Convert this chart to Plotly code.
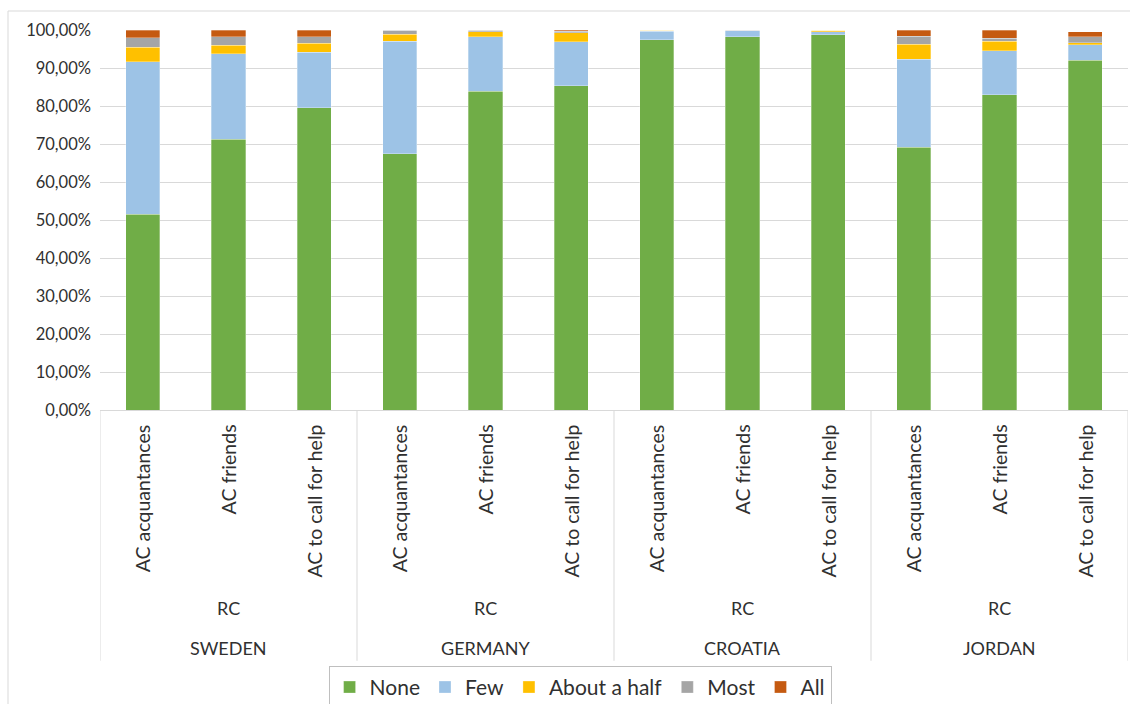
import plotly.graph_objects as go

# Survey response shares (%) per item and country
countries = ["SWEDEN", "GERMANY", "CROATIA", "JORDAN"]
items = ["AC acquantances", "AC friends", "AC to call for help"]
group_label = "RC"

none_vals = [51.5, 71.3, 79.6, 67.4, 83.9, 85.3, 97.4, 98.2, 98.7, 69.2, 83.0, 92.1]
few_vals = [40.2, 22.4, 14.6, 29.6, 14.3, 11.6, 2.3, 1.6, 0.9, 23.1, 11.6, 4.0]
half_vals = [3.7, 2.3, 2.3, 1.9, 1.4, 2.4, 0.3, 0.0, 0.4, 3.9, 2.4, 0.6]
most_vals = [2.6, 2.2, 1.7, 1.1, 0.4, 0.4, 0.0, 0.2, 0.0, 2.2, 0.8, 1.5]
all_vals = [2.0, 1.8, 1.8, 0.0, 0.0, 0.3, 0.0, 0.0, 0.0, 1.6, 2.2, 1.3]

series = [
    ("None", none_vals, "#70ad47"),
    ("Few", few_vals, "#9dc3e6"),
    ("About a half", half_vals, "#ffc000"),
    ("Most", most_vals, "#a5a5a5"),
    ("All", all_vals, "#c55a11"),
]

ytick_vals = [0, 10, 20, 30, 40, 50, 60, 70, 80, 90, 100]
ytick_text = ["0,00%", "10,00%", "20,00%", "30,00%", "40,00%", "50,00%",
              "60,00%", "70,00%", "80,00%", "90,00%", "100,00%"]

FONT = "Lato, 'Open Sans', sans-serif"
TXT = "#303030"

x_pos = list(range(len(countries) * len(items)))

fig = go.Figure()
for name, vals, color in series:
    fig.add_trace(go.Bar(
        x=x_pos, y=vals, name=name, width=0.4,
        marker=dict(color=color, line=dict(color="rgba(255,255,255,0.6)", width=0.5)),
    ))

annotations = []
shapes = []
n_items = len(items)
for ci, country in enumerate(countries):
    for ii, item in enumerate(items):
        xi = ci * n_items + ii
        annotations.append(dict(
            x=xi, y=-0.034, xref="x", yref="paper", text=item, showarrow=False,
            textangle=-90, yanchor="top", xanchor="center",
            font=dict(family=FONT, size=19.5, color=TXT),
        ))
    center = ci * n_items + (n_items - 1) / 2
    annotations.append(dict(
        x=center, y=-0.521, xref="x", yref="paper", text=group_label, showarrow=False,
        yanchor="middle", font=dict(family=FONT, size=18, color=TXT),
    ))
    annotations.append(dict(
        x=center, y=-0.626, xref="x", yref="paper", text=country, showarrow=False,
        yanchor="middle", font=dict(family=FONT, size=18, color=TXT),
    ))

# Group separators below the axis
for k in range(len(countries) + 1):
    xb = k * n_items - 0.5
    shapes.append(dict(type="line", xref="x", yref="paper", x0=xb, x1=xb,
                       y0=0, y1=-0.66, line=dict(color="#d9d9d9", width=1)))

# Chart frame (left and top edges)
shapes.append(dict(type="line", xref="paper", yref="paper",
                   x0=(8 - 100) / 1028, x1=(8 - 100) / 1028, y0=1.05, y1=-1.0,
                   line=dict(color="#d9d9d9", width=1)))
shapes.append(dict(type="line", xref="paper", yref="paper",
                   x0=(8 - 100) / 1028, x1=1.01, y0=1.05, y1=1.05,
                   line=dict(color="#d9d9d9", width=1)))

fig.update_layout(
    barmode="stack",
    width=1130, height=704,
    margin=dict(l=100, r=2, t=30, b=294, autoexpand=False),
    paper_bgcolor="white", plot_bgcolor="white",
    font=dict(family=FONT, color=TXT),
    bargap=0.6,
    xaxis=dict(range=[-0.5, len(x_pos) - 0.5], showticklabels=False, showgrid=False,
               zeroline=False, showline=True, linecolor="#d9d9d9", linewidth=1, ticks=""),
    yaxis=dict(range=[0, 100], tickvals=ytick_vals, ticktext=ytick_text,
               showgrid=True, gridcolor="#d9d9d9", gridwidth=1, zeroline=False,
               tickfont=dict(family=FONT, size=16.5, color=TXT), ticks="",
               ticklabelstandoff=8),
    legend=dict(orientation="h", x=0.467, y=-0.73, xanchor="center", yanchor="middle",
                bordercolor="#bfbfbf", borderwidth=1, font=dict(family=FONT, size=21, color=TXT),
                traceorder="normal", itemwidth=30, tracegroupgap=0),
    annotations=annotations,
    shapes=shapes,
)

fig.write_html("out.html")
